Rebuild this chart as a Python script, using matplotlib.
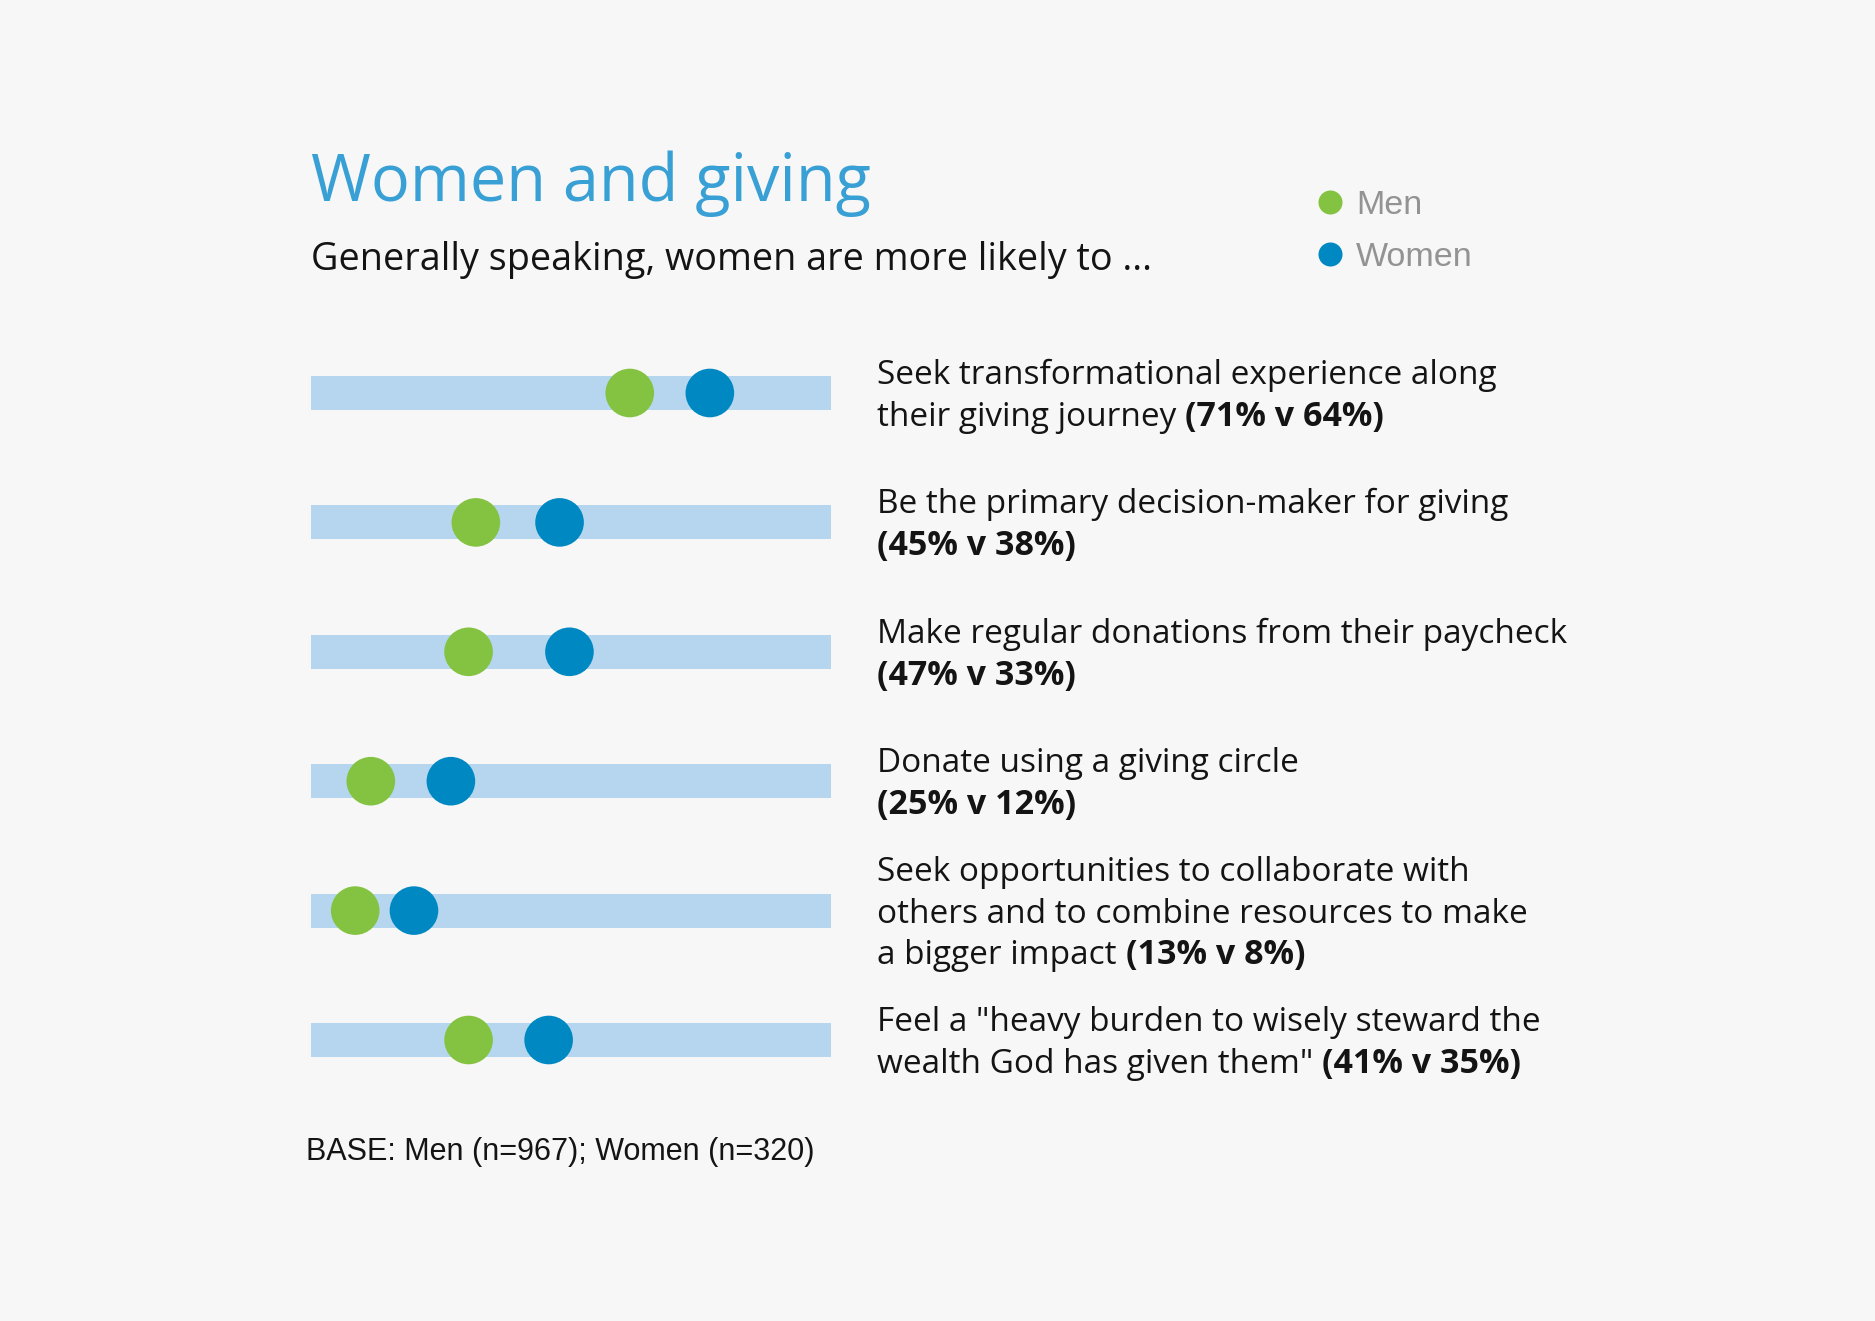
import matplotlib
matplotlib.use("Agg")
from matplotlib import pyplot as plt
from matplotlib.lines import Line2D

# label text per row (last line gets the bold figures appended)
label_lines = [
    ["Seek transformational experience along", "their giving journey"],
    ["Be the primary decision-maker for giving", ""],
    ["Make regular donations from their paycheck", ""],
    ["Donate using a giving circle", ""],
    ["Seek opportunities to collaborate with",
     "others and to combine resources to make", "a bigger impact"],
    ["Feel a \"heavy burden to wisely steward the",
     "wealth God has given them\""],
]
women_pct = [71, 45, 47, 25, 13, 41]
men_pct = [64, 38, 33, 12, 8, 35]

# dot positions as drawn on the 0-100 track
men_pos = [61.3, 31.7, 30.3, 11.5, 8.5, 30.3]
women_pos = [76.7, 47.8, 49.7, 26.9, 19.8, 45.7]

BG = "#f7f7f7"
GREEN = "#84c341"
BLUE = "#0088c2"
TRACK = "#b5d6ee"
TITLE = "#39a0d5"
INK = "#141414"
GREY = "#939393"

BODY = ["Open Sans", "DejaVu Sans"]
HELV = ["Liberation Sans", "DejaVu Sans"]

fig = plt.figure(figsize=(18.75, 13.21), dpi=100, facecolor=BG)
ax = fig.add_axes([0.16587, 0.16374, 0.27733, 0.58774])
ax.set_facecolor(BG)

rows = list(range(len(label_lines)))
ax.barh(rows, [100] * len(rows), left=0, height=0.263, color=TRACK, zorder=1)
ax.scatter(men_pos, rows, s=1225, color=GREEN, edgecolors="none", zorder=3, clip_on=False)
ax.scatter(women_pos, rows, s=1225, color=BLUE, edgecolors="none", zorder=3, clip_on=False)
ax.set_xlim(0, 100)
ax.set_ylim(len(rows) - 0.5, -0.5)
ax.axis("off")

# labels to the right of each track
tr = ax.get_yaxis_transform()
lab_fs = 24
line_pt = 30.2
cap_half = 8.6
last_parts = []
for i, lines in enumerate(label_lines):
    n = len(lines)
    for k, line in enumerate(lines):
        off = -((k - (n - 1) / 2) * line_pt) - cap_half
        t = ax.annotate(line, xy=(1.0885, i), xycoords=tr, xytext=(0, off),
                        textcoords="offset points", va="baseline", ha="left",
                        fontsize=lab_fs, family=BODY, color=INK)
        if k == n - 1:
            last_parts.append((t, i, off))

fig.canvas.draw()
renderer = fig.canvas.get_renderer()
for (t, i, off), w, m in zip(last_parts, women_pct, men_pct):
    if t.get_text():
        dx = t.get_window_extent(renderer).width * 72 / fig.dpi + 0.27 * lab_fs
    else:
        dx = 0
    ax.annotate(f"({w}% v {m}%)", xy=(1.0885, i), xycoords=tr, xytext=(dx, off),
                textcoords="offset points", va="baseline", ha="left",
                fontsize=lab_fs + 0.5, family=BODY, color=INK, fontweight="bold")

fig.text(0.1659, 0.8478, "Women and giving", fontsize=46.7, family=BODY,
         color=TITLE, va="baseline", ha="left")
fig.text(0.1659, 0.7956, "Generally speaking, women are more likely to ...",
         fontsize=27.2, family=BODY, color=INK, va="baseline", ha="left")
fig.text(0.1632, 0.1219, "BASE: Men (n=967); Women (n=320)", fontsize=22,
         family=HELV, color=INK, va="baseline", ha="left")

handles = [
    Line2D([], [], marker="o", linestyle="none", markersize=17.3,
           markerfacecolor=GREEN, markeredgecolor="none"),
    Line2D([], [], marker="o", linestyle="none", markersize=17.3,
           markerfacecolor=BLUE, markeredgecolor="none"),
]
fig.legend(handles, ["Men", "Women"], loc="center left",
           bbox_to_anchor=(0.7004, 0.8245), frameon=False, borderpad=0,
           borderaxespad=0, handlelength=1.0, handletextpad=0.25,
           labelspacing=0.62, prop={"family": HELV, "size": 24.5},
           labelcolor=GREY)

fig.savefig("out.png", dpi=100, facecolor=BG)
